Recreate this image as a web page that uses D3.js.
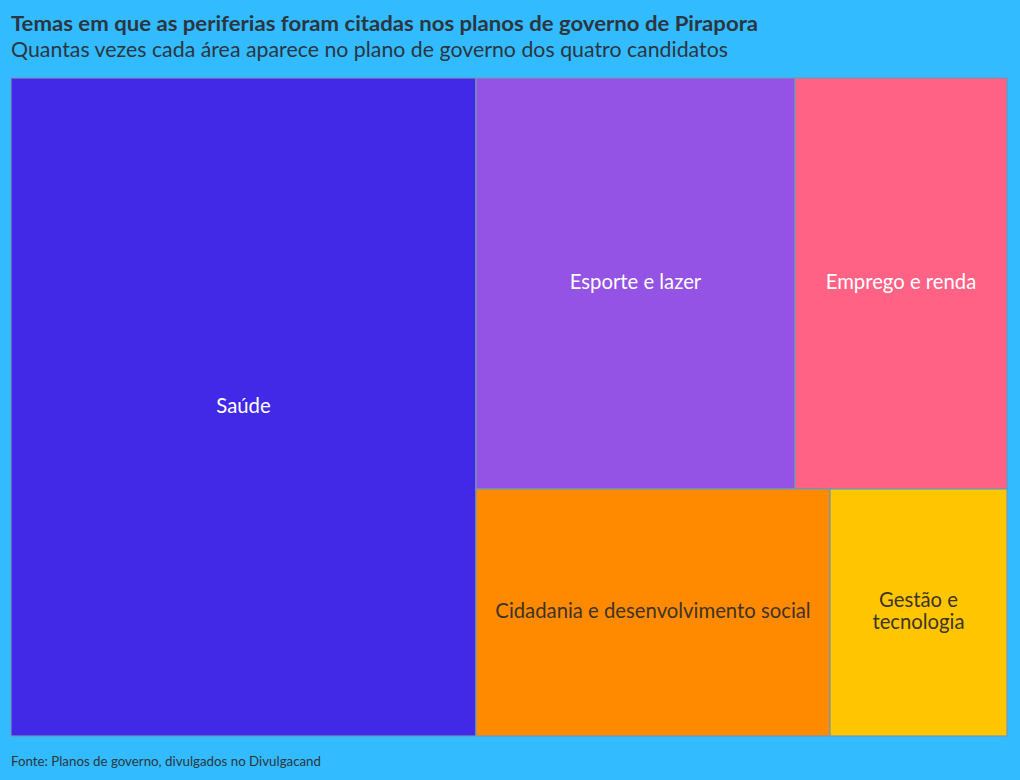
<!DOCTYPE html>
<html><head><meta charset="utf-8">
<script src="https://cdn.jsdelivr.net/npm/d3@7"></script>
<style>body{margin:0;background:#33bbff;}svg{display:block;}</style>
</head><body>
<svg id="c" width="1020" height="780"></svg>
<script>
const categories = ["Saúde","Esporte e lazer","Emprego e renda","Cidadania e desenvolvimento social","Gestão e tecnologia"];
const values = [7,3,2,2,1];
const colors = ["#4229e8","#9453e4","#ff6285","#ff8a00","#ffc600"];
const labelColors = ["#ffffff","#ffffff","#ffffff","#3d3425","#3d3425"];
const labelLines = [["Saúde"],["Esporte e lazer"],["Emprego e renda"],["Cidadania e desenvolvimento social"],["Gestão e","tecnologia"]];

const W=1020,H=780;
const svg=d3.select("#c");
svg.append("rect").attr("width",W).attr("height",H).attr("fill","#33bbff");
const FONT="'Source Sans Pro','Lato','Noto Sans',sans-serif";

function fitText(sel,target){
  const n=sel.node(); const w=n.getComputedTextLength();
  if(w>0) sel.attr("textLength",target).attr("lengthAdjust","spacingAndGlyphs");
}
const t=svg.append("text").attr("x",11).attr("y",31).attr("font-family",FONT).attr("font-weight",700).attr("font-size",21).attr("fill","#2b3640")
 .text("Temas em que as periferias foram citadas nos planos de governo de Pirapora");
fitText(t,747);
const s=svg.append("text").attr("x",11).attr("y",57).attr("font-family",FONT).attr("font-size",20.5).attr("fill","#2b3640")
 .text("Quantas vezes cada área aparece no plano de governo dos quatro candidatos");
fitText(s,717);
const f=svg.append("text").attr("x",11).attr("y",766).attr("font-family",FONT).attr("font-size",13).attr("fill","#2b3640")
 .text("Fonte: Planos de governo, divulgados no Divulgacand");
fitText(f,310);

const data={name:"root",children:categories.map((c,i)=>({name:c,value:values[i],i}))};
const root=d3.hierarchy(data).sum(d=>d.value||0).sort((a,b)=>b.value-a.value);
d3.treemap().tile(d3.treemapSquarify.ratio(1)).size([996,658]).round(true)(root);
const g=svg.append("g").attr("transform","translate(11,78)");
const cell=g.selectAll("g").data(root.leaves()).join("g");
cell.append("rect").attr("x",d=>d.x0).attr("y",d=>d.y0).attr("width",d=>d.x1-d.x0).attr("height",d=>d.y1-d.y0)
 .attr("fill",d=>colors[d.data.i]).attr("stroke","#6f98b8").attr("stroke-width",1.2);
cell.each(function(d){
  const lines=labelLines[d.data.i];
  const cx=(d.x0+d.x1)/2, cy=(d.y0+d.y1)/2;
  const lh=22;
  const txt=d3.select(this).append("text").attr("text-anchor","middle").attr("font-family",FONT).attr("font-size",20.3)
    .attr("fill",labelColors[d.data.i]);
  lines.forEach((l,k)=>{
    txt.append("tspan").attr("x",cx).attr("y",cy+5.5+(k-(lines.length-1)/2)*lh).text(l);
  });
});
</script>
</body></html>
